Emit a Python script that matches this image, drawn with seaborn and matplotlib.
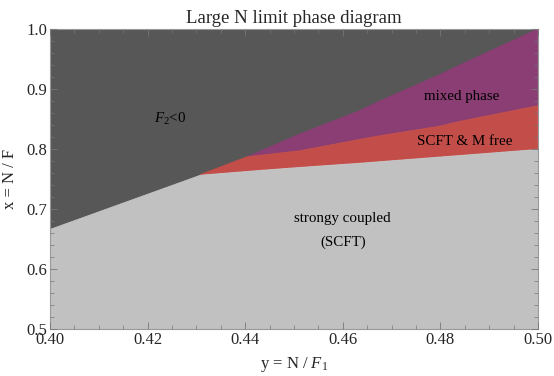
import numpy as np
import matplotlib
matplotlib.use("Agg")
import matplotlib.pyplot as plt
import seaborn as sns
from matplotlib.ticker import MultipleLocator, FormatStrFormatter

# boundary points (horizontal: y = N/F1, vertical: x = N/F)
# F2<0 boundary (dark region lies above it)
dark_y = [0.400, 0.4307, 0.4404, 0.4512, 0.4635, 0.4676, 0.4799, 0.4840, 0.500]
dark_x = [0.667, 0.757, 0.787, 0.825, 0.864, 0.880, 0.924, 0.940, 1.000]
# top of the strongly coupled region (right of the triple point)
scft_y = [0.4307, 0.443, 0.4512, 0.4635, 0.500]
scft_x = [0.757, 0.765, 0.770, 0.777, 0.800]
# lower edge of the mixed phase
mix_y = [0.4404, 0.4512, 0.4635, 0.4676, 0.4799, 0.4840, 0.500]
mix_x = [0.787, 0.797, 0.816, 0.822, 0.838, 0.846, 0.872]

c_dark = "#575757"
c_light = "#c1c1c1"
c_purple = "#8a3e74"
c_red = "#c34e49"

sns.set_style("ticks")
plt.rcParams["font.family"] = ["Liberation Serif", "DejaVu Serif"]
plt.rcParams["mathtext.fontset"] = "custom"
plt.rcParams["mathtext.rm"] = "Liberation Serif"
plt.rcParams["mathtext.it"] = "Liberation Serif:italic"

fig = plt.figure(figsize=(5.54, 3.76), dpi=100)
ax = fig.add_axes([0.0903, 0.125, 0.8807, 0.798])

# dark: above F2 boundary
ax.fill_between(dark_y, dark_x, 1.0, color=c_dark, lw=0.6)
# purple: mixed phase
py = mix_y + [0.500] + dark_y[2:][::-1]
px = mix_x + [1.000] + dark_x[2:][::-1]
ax.fill(py, px, color=c_purple, lw=0.6)
# red: SCFT & M free
ry = [0.4307] + mix_y + scft_y[::-1]
rx = [0.757] + mix_x + scft_x[::-1]
ax.fill(ry, rx, color=c_red, lw=0.6)
# light: strongly coupled
ly = [0.400] + scft_y
lx = [0.667] + scft_x
ax.fill_between(ly, 0.5, lx, color=c_light, lw=0.6)

ax.set_xlim(0.40, 0.50)
ax.set_ylim(0.5, 1.0)
ax.xaxis.set_major_locator(MultipleLocator(0.02))
ax.xaxis.set_minor_locator(MultipleLocator(0.005))
ax.yaxis.set_major_locator(MultipleLocator(0.1))
ax.yaxis.set_minor_locator(MultipleLocator(0.02))
ax.xaxis.set_major_formatter(FormatStrFormatter("%.2f"))
ax.yaxis.set_major_formatter(FormatStrFormatter("%.1f"))
ax.tick_params(which="both", direction="in", top=True, right=True,
               color="#777777", labelsize=12, pad=2)
ax.tick_params(which="major", length=5, width=0.6)
ax.tick_params(which="minor", length=3, width=0.5)
for s in ax.spines.values():
    s.set_color("#999999")
    s.set_linewidth(0.8)
ax.set_axisbelow(False)

ax.set_xlabel(r"y = N / $F_1$", fontsize=12, labelpad=5)
ax.set_ylabel("x = N / F", fontsize=12, labelpad=6)
ax.set_title("Large N limit phase diagram", fontsize=13.5, pad=4)

kw = dict(fontsize=10.8, ha="center", va="center", color="black")
ax.text(0.4246, 0.85, r"$F_2$<0", **kw)
ax.text(0.4844, 0.888, "mixed phase", **kw)
ax.text(0.4850, 0.812, "SCFT & M free", **kw)
ax.text(0.4600, 0.684, "strongy coupled", **kw)
ax.text(0.4600, 0.645, "(SCFT)", **kw)

fig.savefig("out.png", dpi=100)
